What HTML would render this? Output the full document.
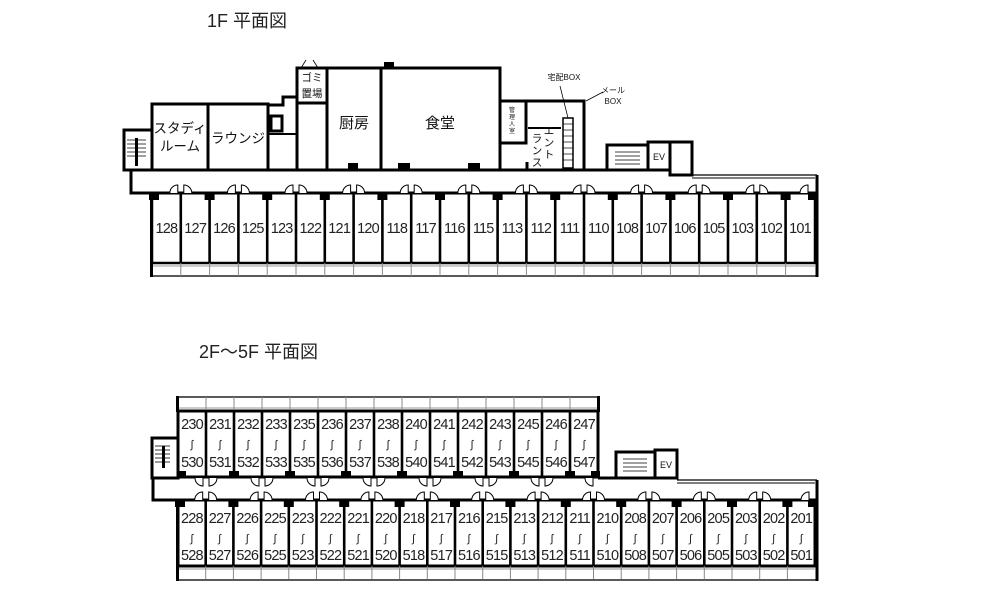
<!DOCTYPE html>
<html><head><meta charset="utf-8"><style>
html,body{margin:0;padding:0;background:#fff;}
svg{display:block;font-family:"Liberation Sans","Noto Sans CJK JP",sans-serif;}
.n{font-size:14.5px;letter-spacing:-0.8px;}
</style></head><body>
<svg width="998" height="590" viewBox="0 0 998 590" xmlns="http://www.w3.org/2000/svg">
<defs>
<rect id="w" x="-1.3" y="0" width="2.6" height="70" fill="#000"/>
<rect id="blk" x="-5" y="0" width="10" height="7" fill="#000"/>
<path id="dR" d="M3 0 V-8 A8 8 0 0 1 11 0" fill="#fff" stroke="#000" stroke-width="1"/>
<path id="dL" d="M-3 0 V-8 A8 8 0 0 0 -11 0" fill="#fff" stroke="#000" stroke-width="1"/>
<path id="uR" d="M3 0 V8 A8 8 0 0 0 11 0" fill="#fff" stroke="#000" stroke-width="1"/>
<path id="uL" d="M-3 0 V8 A8 8 0 0 1 -11 0" fill="#fff" stroke="#000" stroke-width="1"/>
<line id="bd" x1="0" y1="0" x2="0" y2="13" stroke="#888" stroke-width="1"/>
</defs>

<text x="207" y="27" font-size="18" fill="#222">1F  平面図</text>
<text x="199" y="358" font-size="18" fill="#222">2F～5F 平面図</text>

<!-- ===== 1F ===== -->
<g fill="none" stroke="#000" stroke-width="3">
<rect x="124" y="130" width="28" height="40"/>
<rect x="152" y="104" width="56" height="66"/>
<rect x="208" y="104" width="60" height="66"/>
<polyline points="268,170 268,105 283,105 283,97 297,97"/>
<rect x="271" y="116" width="11" height="15"/>
<line x1="268" y1="134" x2="297" y2="134" stroke-width="2"/>
<rect x="297" y="68" width="30" height="35"/>
<line x1="297" y1="103" x2="297" y2="170"/>
<rect x="327" y="68" width="54" height="102"/>
<rect x="381" y="68" width="119" height="102"/>
<rect x="500" y="101" width="26" height="42"/>
<polyline points="526,101 584,101 584,170"/>
<polyline points="527,162 527,170"/>
<rect x="607" y="145" width="41" height="25"/>
<rect x="648" y="142" width="22" height="28"/>
<rect x="670" y="142" width="22" height="33"/>
<line x1="131" y1="170" x2="607" y2="170"/>
<line x1="131" y1="193" x2="816" y2="193"/>
<line x1="131" y1="168.5" x2="131" y2="194.5"/>
<line x1="817" y1="175" x2="817" y2="277"/>
</g>
<line x1="528" y1="128" x2="561" y2="128" stroke="#000" stroke-width="2"/>
<rect x="563" y="118" width="10" height="50" fill="#fff" stroke="#000" stroke-width="1.5"/>
<g stroke="#000" stroke-width="0.7"><line x1="563" y1="124" x2="573" y2="124"/><line x1="563" y1="130" x2="573" y2="130"/><line x1="563" y1="136" x2="573" y2="136"/><line x1="563" y1="142" x2="573" y2="142"/><line x1="563" y1="148" x2="573" y2="148"/><line x1="563" y1="154" x2="573" y2="154"/><line x1="563" y1="160" x2="573" y2="160"/></g>
<line x1="692" y1="175" x2="817" y2="175" stroke="#000" stroke-width="1.2"/>
<line x1="692" y1="178" x2="815" y2="178" stroke="#000" stroke-width="1"/>
<rect x="384" y="62" width="10" height="6" fill="#000"/>
<rect x="348" y="163" width="10" height="7" fill="#000"/><rect x="398" y="163" width="12" height="7" fill="#000"/><rect x="468" y="163" width="12" height="7" fill="#000"/>
<g stroke="#000" stroke-width="0.8"><line x1="127" y1="140" x2="146" y2="140"/><line x1="127" y1="144" x2="146" y2="144"/><line x1="127" y1="148" x2="146" y2="148"/><line x1="127" y1="152" x2="146" y2="152"/><line x1="127" y1="156" x2="146" y2="156"/>
<line x1="615" y1="152" x2="640" y2="152"/><line x1="615" y1="156" x2="640" y2="156"/><line x1="615" y1="160" x2="640" y2="160"/><line x1="615" y1="164" x2="640" y2="164"/></g>
<rect x="135" y="138" width="3" height="28" fill="#000"/>
<g font-size="13.5" fill="#111" text-anchor="middle">
<text x="180" y="133">スタディ</text><text x="180" y="151">ルーム</text>
<text x="238" y="143">ラウンジ</text>
<text x="354" y="128" font-size="15">厨房</text>
<text x="440" y="128" font-size="15">食堂</text>
<text x="312" y="81" font-size="10.5">ゴミ</text><text x="312" y="97" font-size="10.5">置場</text>
<text x="512" y="112" font-size="6">管</text><text x="512" y="119" font-size="6">理</text><text x="512" y="126" font-size="6">人</text><text x="512" y="133" font-size="6">室</text>
<text x="549" y="134" font-size="10.5">エ</text><text x="549" y="146" font-size="10.5">ン</text><text x="549" y="158" font-size="10.5">ト</text>
<text x="537" y="142" font-size="10.5">ラ</text><text x="537" y="154" font-size="10.5">ン</text><text x="537" y="166" font-size="10.5">ス</text>
<text x="564" y="80" font-size="8">宅配BOX</text>
<text x="613" y="93" font-size="8">メール</text><text x="613" y="104" font-size="8">BOX</text>
<text x="659" y="160" font-size="9">EV</text>
</g>
<line x1="560" y1="86" x2="568" y2="118" stroke="#000" stroke-width="0.8"/>
<line x1="586" y1="101" x2="603" y2="92" stroke="#000" stroke-width="0.8"/>
<path d="M301 68 l5 -8 M318 68 l-5 -8" stroke="#000" stroke-width="0.8" fill="none"/>

<rect x="152" y="193" width="663" height="70" fill="none" stroke="#000" stroke-width="2.5"/>
<rect x="152" y="263" width="665" height="13" fill="none" stroke="#000" stroke-width="1.3"/>
<line x1="152" y1="266" x2="815" y2="266" stroke="#999" stroke-width="1"/>
<rect x="150" y="193" width="3" height="84" fill="#000"/>
<g transform="translate(0,193)">
<use href="#w" x="180.8"/><use href="#w" x="209.6"/><use href="#w" x="238.4"/><use href="#w" x="267.2"/><use href="#w" x="296"/><use href="#w" x="324.8"/><use href="#w" x="353.6"/><use href="#w" x="382.4"/><use href="#w" x="411.2"/><use href="#w" x="440"/><use href="#w" x="468.8"/><use href="#w" x="497.6"/><use href="#w" x="526.4"/><use href="#w" x="555.2"/><use href="#w" x="584"/><use href="#w" x="612.8"/><use href="#w" x="641.6"/><use href="#w" x="670.4"/><use href="#w" x="699.2"/><use href="#w" x="728"/><use href="#w" x="756.8"/><use href="#w" x="785.6"/>
<use href="#blk" x="154"/><use href="#blk" x="209.6"/><use href="#blk" x="267.2"/><use href="#blk" x="324.8"/><use href="#blk" x="382.4"/><use href="#blk" x="440"/><use href="#blk" x="497.6"/><use href="#blk" x="555.2"/><use href="#blk" x="612.8"/><use href="#blk" x="670.4"/><use href="#blk" x="728"/><use href="#blk" x="785.6"/><use href="#blk" x="813"/>
<use href="#dL" x="180.8"/><use href="#dR" x="180.8"/><use href="#dL" x="238.4"/><use href="#dR" x="238.4"/><use href="#dL" x="296"/><use href="#dR" x="296"/><use href="#dL" x="353.6"/><use href="#dR" x="353.6"/><use href="#dL" x="411.2"/><use href="#dR" x="411.2"/><use href="#dL" x="468.8"/><use href="#dR" x="468.8"/><use href="#dL" x="526.4"/><use href="#dR" x="526.4"/><use href="#dL" x="584"/><use href="#dR" x="584"/><use href="#dL" x="641.6"/><use href="#dR" x="641.6"/><use href="#dL" x="699.2"/><use href="#dR" x="699.2"/><use href="#dL" x="756.8"/><use href="#dR" x="756.8"/><use href="#dL" x="811"/>
</g>
<g transform="translate(0,263)">
<use href="#bd" x="180.8"/><use href="#bd" x="209.6"/><use href="#bd" x="238.4"/><use href="#bd" x="267.2"/><use href="#bd" x="296"/><use href="#bd" x="324.8"/><use href="#bd" x="353.6"/><use href="#bd" x="382.4"/><use href="#bd" x="411.2"/><use href="#bd" x="440"/><use href="#bd" x="468.8"/><use href="#bd" x="497.6"/><use href="#bd" x="526.4"/><use href="#bd" x="555.2"/><use href="#bd" x="584"/><use href="#bd" x="612.8"/><use href="#bd" x="641.6"/><use href="#bd" x="670.4"/><use href="#bd" x="699.2"/><use href="#bd" x="728"/><use href="#bd" x="756.8"/><use href="#bd" x="785.6"/>
</g>
<g class="n" fill="#222" text-anchor="middle">
<text x="166.4" y="233">128</text><text x="195.2" y="233">127</text><text x="224" y="233">126</text><text x="252.8" y="233">125</text><text x="281.6" y="233">123</text><text x="310.4" y="233">122</text><text x="339.2" y="233">121</text><text x="368" y="233">120</text><text x="396.8" y="233">118</text><text x="425.6" y="233">117</text><text x="454.4" y="233">116</text><text x="483.2" y="233">115</text><text x="512" y="233">113</text><text x="540.8" y="233">112</text><text x="569.6" y="233">111</text><text x="598.4" y="233">110</text><text x="627.2" y="233">108</text><text x="656" y="233">107</text><text x="684.8" y="233">106</text><text x="713.6" y="233">105</text><text x="742.4" y="233">103</text><text x="771.2" y="233">102</text><text x="800" y="233">101</text>
</g>

<!-- ===== 2F ===== -->
<g fill="none" stroke="#000" stroke-width="3">
<rect x="178" y="411" width="420" height="66"/>
<rect x="152" y="438" width="26" height="40"/>
<line x1="152" y1="478" x2="178" y2="478"/>
<line x1="598" y1="478" x2="677" y2="478"/>
<rect x="616" y="452" width="39" height="26"/>
<rect x="655" y="450" width="22" height="28"/>
<line x1="152" y1="500" x2="816" y2="500"/>
<line x1="153" y1="476.5" x2="153" y2="501.5"/>
<rect x="178" y="500" width="637" height="66"/>
<line x1="817" y1="480" x2="817" y2="581"/>
</g>
<line x1="677" y1="480" x2="817" y2="480" stroke="#000" stroke-width="1.2"/>
<line x1="677" y1="483" x2="815" y2="483" stroke="#000" stroke-width="1"/>
<rect x="178" y="397" width="420" height="14" fill="none" stroke="#000" stroke-width="1.3"/>
<line x1="178" y1="408" x2="598" y2="408" stroke="#999" stroke-width="1"/>
<rect x="176" y="396" width="3" height="16" fill="#000"/><rect x="597" y="396" width="3" height="16" fill="#000"/>
<rect x="178" y="566" width="639" height="14" fill="none" stroke="#000" stroke-width="1.3"/>
<line x1="178" y1="569" x2="815" y2="569" stroke="#999" stroke-width="1"/>
<rect x="176" y="500" width="3" height="81" fill="#000"/>
<g stroke="#000" stroke-width="0.8"><line x1="155" y1="446" x2="170" y2="446"/><line x1="155" y1="450" x2="170" y2="450"/><line x1="155" y1="454" x2="170" y2="454"/><line x1="155" y1="458" x2="170" y2="458"/><line x1="155" y1="462" x2="170" y2="462"/>
<line x1="623" y1="459" x2="647" y2="459"/><line x1="623" y1="463" x2="647" y2="463"/><line x1="623" y1="467" x2="647" y2="467"/><line x1="623" y1="471" x2="647" y2="471"/></g>
<rect x="162" y="446" width="3" height="22" fill="#000"/>
<text x="666" y="468" font-size="9" text-anchor="middle" fill="#111">EV</text>

<g fill="#000">
<rect x="204.7" y="411" width="2.6" height="66"/><rect x="232.7" y="411" width="2.6" height="66"/><rect x="260.7" y="411" width="2.6" height="66"/><rect x="288.7" y="411" width="2.6" height="66"/><rect x="316.7" y="411" width="2.6" height="66"/><rect x="344.7" y="411" width="2.6" height="66"/><rect x="372.7" y="411" width="2.6" height="66"/><rect x="400.7" y="411" width="2.6" height="66"/><rect x="428.7" y="411" width="2.6" height="66"/><rect x="456.7" y="411" width="2.6" height="66"/><rect x="484.7" y="411" width="2.6" height="66"/><rect x="512.7" y="411" width="2.6" height="66"/><rect x="540.7" y="411" width="2.6" height="66"/><rect x="568.7" y="411" width="2.6" height="66"/>
<rect x="177" y="471" width="9" height="7"/><rect x="229" y="471" width="10" height="7"/><rect x="285" y="471" width="10" height="7"/><rect x="341" y="471" width="10" height="7"/><rect x="397" y="471" width="10" height="7"/><rect x="453" y="471" width="10" height="7"/><rect x="509" y="471" width="10" height="7"/><rect x="565" y="471" width="10" height="7"/><rect x="591" y="471" width="9" height="7"/>
</g>
<g transform="translate(0,478)">
<use href="#uL" x="206"/><use href="#uR" x="206"/><use href="#uL" x="262"/><use href="#uR" x="262"/><use href="#uL" x="318"/><use href="#uR" x="318"/><use href="#uL" x="374"/><use href="#uR" x="374"/><use href="#uL" x="430"/><use href="#uR" x="430"/><use href="#uL" x="486"/><use href="#uR" x="486"/><use href="#uL" x="542"/><use href="#uR" x="542"/><use href="#uL" x="596"/>
</g>
<g transform="translate(0,397)">
<use href="#bd" x="206"/><use href="#bd" x="234"/><use href="#bd" x="262"/><use href="#bd" x="290"/><use href="#bd" x="318"/><use href="#bd" x="346"/><use href="#bd" x="374"/><use href="#bd" x="402"/><use href="#bd" x="430"/><use href="#bd" x="458"/><use href="#bd" x="486"/><use href="#bd" x="514"/><use href="#bd" x="542"/><use href="#bd" x="570"/>
</g>
<g transform="translate(0,500)" fill="#000">
<g transform="scale(1,0.943)">
<use href="#w" x="205.7"/><use href="#w" x="233.4"/><use href="#w" x="261.1"/><use href="#w" x="288.8"/><use href="#w" x="316.5"/><use href="#w" x="344.2"/><use href="#w" x="371.9"/><use href="#w" x="399.6"/><use href="#w" x="427.3"/><use href="#w" x="455"/><use href="#w" x="482.7"/><use href="#w" x="510.4"/><use href="#w" x="538.1"/><use href="#w" x="565.8"/><use href="#w" x="593.5"/><use href="#w" x="621.2"/><use href="#w" x="648.9"/><use href="#w" x="676.6"/><use href="#w" x="704.3"/><use href="#w" x="732"/><use href="#w" x="759.7"/><use href="#w" x="787.4"/>
</g>
<use href="#blk" x="180"/><use href="#blk" x="233.4"/><use href="#blk" x="288.8"/><use href="#blk" x="344.2"/><use href="#blk" x="399.6"/><use href="#blk" x="455"/><use href="#blk" x="510.4"/><use href="#blk" x="565.8"/><use href="#blk" x="621.2"/><use href="#blk" x="676.6"/><use href="#blk" x="732"/><use href="#blk" x="787.4"/><use href="#blk" x="813"/>
<use href="#dL" x="205.7"/><use href="#dR" x="205.7"/><use href="#dL" x="261.1"/><use href="#dR" x="261.1"/><use href="#dL" x="316.5"/><use href="#dR" x="316.5"/><use href="#dL" x="371.9"/><use href="#dR" x="371.9"/><use href="#dL" x="427.3"/><use href="#dR" x="427.3"/><use href="#dL" x="482.7"/><use href="#dR" x="482.7"/><use href="#dL" x="538.1"/><use href="#dR" x="538.1"/><use href="#dL" x="593.5"/><use href="#dR" x="593.5"/><use href="#dL" x="648.9"/><use href="#dR" x="648.9"/><use href="#dL" x="704.3"/><use href="#dR" x="704.3"/><use href="#dL" x="759.7"/><use href="#dR" x="759.7"/><use href="#dL" x="812"/>
</g>
<g transform="translate(0,566)">
<use href="#bd" x="205.7"/><use href="#bd" x="233.4"/><use href="#bd" x="261.1"/><use href="#bd" x="288.8"/><use href="#bd" x="316.5"/><use href="#bd" x="344.2"/><use href="#bd" x="371.9"/><use href="#bd" x="399.6"/><use href="#bd" x="427.3"/><use href="#bd" x="455"/><use href="#bd" x="482.7"/><use href="#bd" x="510.4"/><use href="#bd" x="538.1"/><use href="#bd" x="565.8"/><use href="#bd" x="593.5"/><use href="#bd" x="621.2"/><use href="#bd" x="648.9"/><use href="#bd" x="676.6"/><use href="#bd" x="704.3"/><use href="#bd" x="732"/><use href="#bd" x="759.7"/><use href="#bd" x="787.4"/>
</g>

<g class="n" fill="#222" text-anchor="middle">
<text x="192" y="429">230</text><text x="220" y="429">231</text><text x="248" y="429">232</text><text x="276" y="429">233</text><text x="304" y="429">235</text><text x="332" y="429">236</text><text x="360" y="429">237</text><text x="388" y="429">238</text><text x="416" y="429">240</text><text x="444" y="429">241</text><text x="472" y="429">242</text><text x="500" y="429">243</text><text x="528" y="429">245</text><text x="556" y="429">246</text><text x="584" y="429">247</text>
<text x="192" y="467">530</text><text x="220" y="467">531</text><text x="248" y="467">532</text><text x="276" y="467">533</text><text x="304" y="467">535</text><text x="332" y="467">536</text><text x="360" y="467">537</text><text x="388" y="467">538</text><text x="416" y="467">540</text><text x="444" y="467">541</text><text x="472" y="467">542</text><text x="500" y="467">543</text><text x="528" y="467">545</text><text x="556" y="467">546</text><text x="584" y="467">547</text>
<text x="191.9" y="523">228</text><text x="219.6" y="523">227</text><text x="247.3" y="523">226</text><text x="275" y="523">225</text><text x="302.7" y="523">223</text><text x="330.4" y="523">222</text><text x="358.1" y="523">221</text><text x="385.8" y="523">220</text><text x="413.5" y="523">218</text><text x="441.2" y="523">217</text><text x="468.9" y="523">216</text><text x="496.6" y="523">215</text><text x="524.3" y="523">213</text><text x="552" y="523">212</text><text x="579.7" y="523">211</text><text x="607.4" y="523">210</text><text x="635.1" y="523">208</text><text x="662.8" y="523">207</text><text x="690.5" y="523">206</text><text x="718.2" y="523">205</text><text x="745.9" y="523">203</text><text x="773.6" y="523">202</text><text x="801.3" y="523">201</text>
<text x="191.9" y="560">528</text><text x="219.6" y="560">527</text><text x="247.3" y="560">526</text><text x="275" y="560">525</text><text x="302.7" y="560">523</text><text x="330.4" y="560">522</text><text x="358.1" y="560">521</text><text x="385.8" y="560">520</text><text x="413.5" y="560">518</text><text x="441.2" y="560">517</text><text x="468.9" y="560">516</text><text x="496.6" y="560">515</text><text x="524.3" y="560">513</text><text x="552" y="560">512</text><text x="579.7" y="560">511</text><text x="607.4" y="560">510</text><text x="635.1" y="560">508</text><text x="662.8" y="560">507</text><text x="690.5" y="560">506</text><text x="718.2" y="560">505</text><text x="745.9" y="560">503</text><text x="773.6" y="560">502</text><text x="801.3" y="560">501</text>
</g>
<g font-size="11" fill="#222" text-anchor="middle">
<text x="192" y="448">∫</text><text x="220" y="448">∫</text><text x="248" y="448">∫</text><text x="276" y="448">∫</text><text x="304" y="448">∫</text><text x="332" y="448">∫</text><text x="360" y="448">∫</text><text x="388" y="448">∫</text><text x="416" y="448">∫</text><text x="444" y="448">∫</text><text x="472" y="448">∫</text><text x="500" y="448">∫</text><text x="528" y="448">∫</text><text x="556" y="448">∫</text><text x="584" y="448">∫</text>
<text x="191.9" y="542">∫</text><text x="219.6" y="542">∫</text><text x="247.3" y="542">∫</text><text x="275" y="542">∫</text><text x="302.7" y="542">∫</text><text x="330.4" y="542">∫</text><text x="358.1" y="542">∫</text><text x="385.8" y="542">∫</text><text x="413.5" y="542">∫</text><text x="441.2" y="542">∫</text><text x="468.9" y="542">∫</text><text x="496.6" y="542">∫</text><text x="524.3" y="542">∫</text><text x="552" y="542">∫</text><text x="579.7" y="542">∫</text><text x="607.4" y="542">∫</text><text x="635.1" y="542">∫</text><text x="662.8" y="542">∫</text><text x="690.5" y="542">∫</text><text x="718.2" y="542">∫</text><text x="745.9" y="542">∫</text><text x="773.6" y="542">∫</text><text x="801.3" y="542">∫</text>
</g>
</svg>
</body></html>
